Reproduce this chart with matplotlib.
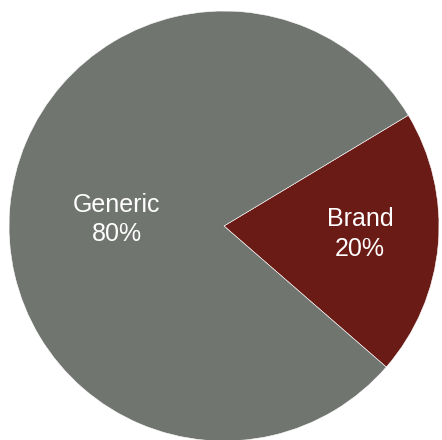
import numpy as np
import matplotlib
matplotlib.use("Agg")
import matplotlib.pyplot as plt

plt.rcParams['font.family'] = ['Liberation Sans', 'DejaVu Sans']

# data
labels = ['Brand', 'Generic']
shares = [20, 80]
colors = ['#6b1b16', '#717570']
label_dist = [0.635, 0.50]  # how far out each label sits
nudge_y = [3, -2]           # small vertical tweak, points

fig = plt.figure(figsize=(4.42, 4.40), dpi=100)
ax = fig.add_axes([9 / 442, -1 / 440, 430 / 442, 430 / 440])

wedges, _ = ax.pie(shares, colors=colors, startangle=-41, counterclock=True,
                   radius=1.0, wedgeprops=dict(edgecolor='white', linewidth=0.4))

for w, lab, val, d, dy in zip(wedges, labels, shares, label_dist, nudge_y):
    mid = np.deg2rad((w.theta1 + w.theta2) / 2)
    ax.annotate(f"{lab}\n{val}%", (d * np.cos(mid), d * np.sin(mid)),
                xytext=(0, dy), textcoords='offset points',
                ha='center', va='center', color='white', fontsize=18,
                linespacing=1.3)

ax.set_xlim(-1, 1)
ax.set_ylim(-1, 1)
ax.set_aspect('equal')
ax.axis('off')

fig.savefig('out.png', dpi=100)
